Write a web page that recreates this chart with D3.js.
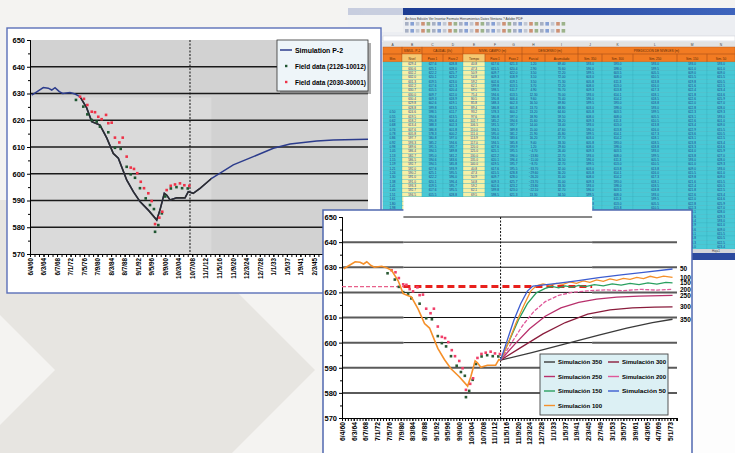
<!DOCTYPE html>
<html>
<head>
<meta charset="utf-8">
<script src="https://cdn.jsdelivr.net/npm/d3@7"></script>
<style>
body { margin: 0; background: #f4f3f1; }
svg { display: block; font-family: "Liberation Sans", Arial, sans-serif; }
</style>
</head>
<body>
<svg id="chart" width="735" height="453"></svg>
<script>
// ---- data (x = months from start of record, y = water level, m) ----
var simP2 = [[1.5,629.4],[6,630.6],[11.8,632.2],[16.2,632.0],[19.3,631.3],[22.2,632.2],[26,630.7],[29,630.0],
  [35.5,630.4],[40,629.8],[44.4,628.8],[50.3,624.6],[54.8,619.5],[62.1,618.2],[68.1,613.4],[73.9,607.6],
  [78.4,605.8],[85.8,597.7],[91.7,593.3],[97.6,589.6],[105,586.4],[112.5,582.7],[115.4,586.5],[119.2,592.7],
  [121.3,592],[124.3,590.2],[130.2,591],[137.6,591],[140.5,593.3],[144.9,592.7],[150.9,594.5],[161.3,598.3],
  [180.4,603.3],[198.2,606.4],[216,609.5],[230.8,611.1],[254.5,612.2],[269.2,612.6],[300,612.9]];

var fieldGreen = [[40.8,627.6],[47.3,625.1],[50.9,622.2],[54.8,620.1],[59.2,619.5],[62.1,617.6],[69.5,615.5],
  [75.4,609.7],[80.5,609.3],[85.8,602.6],[89.4,599.8],[93.2,598.5],[97.6,594.6],[102.7,590.8],[106.5,588.3],
  [110,586.8],[111,578.3],[113.9,580.8],[117,585.2],[120,591.5],[125,594.5],[130,595],[135,594.6],[140,594.5]];

var fieldRed = [[44.4,628.8],[47.9,628],[50.9,625.7],[54.8,623.2],[57.7,623],[60.6,621.3],[63.6,620.4],[67.5,622],
  [69.5,618.9],[72.5,619.1],[75.4,613.5],[79.3,611.7],[82.3,613.5],[85.8,606.4],[89.4,602.3],[92.3,601.8],
  [95.2,600.2],[98.3,597],[101.2,594.6],[105,592.7],[108,589.8],[111,581.2],[114.8,583.6],[117.4,585.8],
  [121.3,593.9],[124.9,595.5],[128.7,596],[133.1,596.4],[137,595.7],[141.4,595.5]];

var sc50 = [[142,593],[148,601],[154,609],[160,615.5],[166,620.5],[171,622.5],[189,623.4],[210,624.6],[230,625.9],[250,627],[270,628],[296,629.3]];
var sc100 = [[142,593],[149,600],[156,608],[163,615],[169,620.5],[174,622.6],[180,623.4],[186,622.8],[192,623.6],[198,623.2],[204,624.2],[210,623.6],[216,624.6],[222,624],[228,625],[234,624.4],[240,625.4],[246,624.8],[252,625.6],[258,625.2],[264,626],[270,625.5],[276,626.4],[282,625.8],[288,626.5],[296,626]];
var sc150 = [[142,593],[150,601],[158,609],[166,615.5],[174,619.8],[182,621.6],[188,622.4],[194,621.8],[200,622.6],[206,622],[212,622.8],[218,622.3],[226,623.1],[234,622.6],[242,623.4],[250,622.9],[258,623.6],[266,623.1],[274,623.8],[282,623.3],[290,624],[296,623.8]];
var sc200 = [[142,593],[152,600],[162,607],[172,612.5],[182,616.3],[194,618.8],[206,620],[220,620.6],[236,621],[252,620.7],[268,621.2],[282,620.9],[296,621.2]];
var sc250 = [[142,593],[155,599.5],[168,605.5],[182,610.5],[196,613.8],[212,616],[228,617.3],[246,618.1],[266,618.5],[296,618.8]];
var sc300 = [[142,593],[160,598],[180,603.5],[200,608],[220,611.3],[240,613],[260,613.8],[280,614.1],[296,614.2]];
var sc350 = [[142,593],[170,596],[200,599.5],[230,603],[255,605.8],[278,608],[296,609.3]];

var scenNames = ["350", "300", "250", "200", "150", "100", "50"];
var scenSeries = [sc350, sc300, sc250, sc200, sc150, sc100, sc50];
var scenColors = ["#3a3a3a", "#8a1c3c", "#b8306c", "#e0589a", "#2aa060", "#f5902a", "#3c5cd0"];
var legend2Order = ["350", "300", "250", "200", "150", "50", "100"];

var yTicks = [570, 580, 590, 600, 610, 620, 630, 640, 650];
var gridLevels = [580, 590, 600, 610, 620, 630, 640];
var nowT = 142;          // start of prediction (dashed vertical)
var refLevel = 622.3;    // red reference level

var xLabels1 = ["6/4/60","6/3/64","6/7/68","7/1/72","7/5/76","7/9/80","8/3/84","8/7/88","9/1/92","9/5/96",
  "9/9/00","10/3/04","10/7/08","11/1/12","11/5/16","11/9/20","12/3/24","12/7/28","1/1/33","1/5/37",
  "1/9/41","2/3/45","2/7/49","3/1/53","3/5/57"];
var xLabels2 = ["6/4/60","6/3/64","6/7/68","7/1/72","7/5/76","7/9/80","8/3/84","8/7/88","9/1/92","9/5/96",
  "9/9/00","10/3/04","10/7/08","11/1/12","11/5/16","11/9/20","12/3/24","12/7/28","1/1/33","1/5/37",
  "1/9/41","2/3/45","2/7/49","3/1/53","3/5/57","3/9/61","4/3/65","4/7/69","5/1/73"];

var legend1Labels = ["Simulation P-2", "Field data (2126-10012)", "Field data (2030-30001)"];

var sheetMenu = "Archivo   Edición   Ver   Insertar   Formato   Herramientas   Datos   Ventana   ?   Adobe PDF";
var sheetLetters = ["A","B","C","D","E","F","G","H","I","J","K","L","M","N"];
var sheetGroups = [[0,1,""],[1,2,"SIMUL. P-2"],[2,4,"CAUDAL (l/s)"],[4,7,"NIVEL CAMPO (m)"],[7,9,"DESCENSO (m)"],[9,14,"PREDICCIÓN DE NIVELES (m)"]];
var sheetSub = ["Mes","Nivel","Pozo 1","Pozo 2","Tiempo","Pozo 1","Pozo 2","Parcial","Acumulado","Sim. 350","Sim. 300","Sim. 250","Sim. 150","Sim. 50"];

// ---- setup ----
var svg = d3.select("#chart");
var bold = "bold";

// background with chevron
svg.append("rect").attr("width", 735).attr("height", 453).attr("fill", "#f4f3f1");
svg.append("path").attr("d", "M-115,200L145,200L315,370L145,540L-115,540L55,370Z").attr("fill", "#e7e5e1");
svg.append("rect").attr("x", 690).attr("y", 255).attr("width", 45).attr("height", 198).attr("fill", "#fdfdfd");

// ---- spreadsheet window (background) ----
var colX = [383,402,422,443,463,485,505,522,545,578,602,633,677,707,735];
var rowsTop = 62, rowH = 4.35, nRows = 43;
var sh = svg.append("g");
sh.append("rect").attr("x", 348).attr("y", 8).attr("width", 387).attr("height", 252).attr("fill", "#dde3ec");
var grad = svg.append("defs").append("linearGradient").attr("id", "tb");
grad.append("stop").attr("offset", "0").attr("stop-color", "#17358a");
grad.append("stop").attr("offset", "1").attr("stop-color", "#3e64bd");
sh.append("rect").attr("x", 348).attr("y", 8).attr("width", 387).attr("height", 7).attr("fill", "url(#tb)");
sh.append("rect").attr("x", 348).attr("y", 15).attr("width", 387).attr("height", 27).attr("fill", "#eceef2");
sh.append("text").attr("x", 405).attr("y", 19.5).attr("font-size", 3.3).attr("fill", "#333").text(sheetMenu);
// toolbar buttons
sh.selectAll("rect.btn").data(d3.range(60)).join("rect")
  .attr("x", function (d) { return 405 + d * 5.4; })
  .attr("y", function (d) { return d < 30 ? 22 : 29; })
  .attr("width", 3.6).attr("height", 3.6)
  .attr("fill", function (d) { return ["#8a96b0", "#5b7fc8", "#b0b8c8", "#c06a40", "#7a9a60"][d % 5]; })
  .attr("opacity", 0.7)
  .attr("transform", function (d) { return d >= 30 ? "translate(-162,0)" : null; });
sh.append("rect").attr("x", 383).attr("y", 36).attr("width", 352).attr("height", 5).attr("fill", "#fff").attr("stroke", "#c0c4cc").attr("stroke-width", 0.4);
// column letters
sh.append("rect").attr("x", 383).attr("y", 42).attr("width", 352).attr("height", 5).attr("fill", "#e2e2e2");
sheetLetters.forEach(function (l, i) {
  sh.append("text").attr("x", (colX[i] + colX[i + 1]) / 2).attr("y", 46).attr("font-size", 3.3)
    .attr("text-anchor", "middle").attr("fill", "#444").text(l);
});
// orange header
sh.append("rect").attr("x", 383).attr("y", 47).attr("width", 352).attr("height", 15).attr("fill", "#f27b22");
sheetGroups.forEach(function (g) {
  sh.append("rect").attr("x", colX[g[0]]).attr("y", 47).attr("width", colX[g[1]] - colX[g[0]]).attr("height", 7)
    .attr("fill", "none").attr("stroke", "#b5561a").attr("stroke-width", 0.4);
  sh.append("text").attr("x", (colX[g[0]] + colX[g[1]]) / 2).attr("y", 52).attr("font-size", 3.2)
    .attr("text-anchor", "middle").attr("fill", "#5a2a08").text(g[2]);
});
sheetSub.forEach(function (s, i) {
  sh.append("rect").attr("x", colX[i]).attr("y", 54).attr("width", colX[i + 1] - colX[i]).attr("height", 8)
    .attr("fill", i === 1 || i === 4 ? "#f6c870" : "none").attr("stroke", "#b5561a").attr("stroke-width", 0.4);
  sh.append("text").attr("x", (colX[i] + colX[i + 1]) / 2).attr("y", 59.5).attr("font-size", 3.1)
    .attr("text-anchor", "middle").attr("fill", "#5a2a08").text(s);
});
// data cells, values taken from the chart series
var f1 = d3.format(".1f"), f2 = d3.format(".2f");
function at(arr, r) { return arr[r % arr.length]; }
var sheetRows = d3.range(nRows).map(function (r) {
  var s = at(simP2, r), g = at(fieldGreen, r), rd = at(fieldRed, r);
  return [r >= 11 ? f2(s[0] / 100) : "", f1(s[1]), f1(g[1]), f1(rd[1]), f1(g[0]), f1(at(fieldGreen, r + 5)[1]),
    f1(at(fieldRed, r + 5)[1]), f2(rd[1] - g[1]), f2(s[1] - 560), f1(at(sc350, r)[1]), f1(at(sc300, r)[1]),
    f1(at(sc250, r)[1]), f1(at(sc150, r)[1]), f1(at(sc50, r)[1])];
});
sheetRows.forEach(function (row, r) {
  var y = rowsTop + r * rowH;
  row.forEach(function (v, c) {
    sh.append("rect").attr("x", colX[c]).attr("y", y).attr("width", colX[c + 1] - colX[c]).attr("height", rowH)
      .attr("fill", c === 1 || c === 4 ? "#f7f0a6" : "#48c9d6").attr("stroke", "#36aebd").attr("stroke-width", 0.3);
    sh.append("text").attr("x", (colX[c] + colX[c + 1]) / 2).attr("y", y + 3.3).attr("font-size", 3.1)
      .attr("text-anchor", "middle").attr("fill", "#1b3a8c").text(v);
  });
});
sh.append("rect").attr("x", 348).attr("y", rowsTop + nRows * rowH).attr("width", 387).attr("height", 4).attr("fill", "#d4d6da");
sh.append("rect").attr("x", 348).attr("y", 253).attr("width", 387).attr("height", 7).attr("fill", "#2b4a9e");
sh.append("text").attr("x", 712).attr("y", 251.5).attr("font-size", 3).attr("fill", "#444").text("Hoja1");
// faded corner over the sheet
svg.append("rect").attr("x", 340).attr("y", 0).attr("width", 63).attr("height", 32).attr("fill", "#f4f4f4").attr("opacity", 0.8);

// ---- helper for axes ----
function styleAxis(g, size) {
  g.selectAll("path, line").attr("stroke", "#000").attr("stroke-width", 1);
  g.selectAll("text").attr("font-size", size).attr("font-weight", bold).attr("fill", "#000")
    .attr("font-family", "Liberation Sans, Arial, sans-serif");
}
function rotateLabels(g) {
  g.selectAll("text").attr("y", 0).attr("x", -4).attr("dy", "0.35em")
    .attr("transform", "rotate(-90)").style("text-anchor", "end");
}

// ---- chart 1 (history fit) ----
var c1 = svg.append("g");
var x1 = d3.scaleLinear().domain([0, 300]).range([30, 368]);
var y1 = d3.scaleLinear().domain([570, 650]).range([254, 40]);
c1.append("rect").attr("x", 7).attr("y", 28).attr("width", 374).attr("height", 265)
  .attr("fill", "#fff").attr("stroke", "#5b6fb8").attr("stroke-width", 1.4);
c1.append("rect").attr("x", x1(0)).attr("y", y1(650)).attr("width", x1(300) - x1(0)).attr("height", y1(570) - y1(650)).attr("fill", "#d2d2d2");
c1.append("rect").attr("x", x1(0)).attr("y", y1(628.5)).attr("width", x1(161) - x1(0)).attr("height", y1(570) - y1(628.5)).attr("fill", "#dadada");
c1.selectAll("line.grid").data(gridLevels).join("line")
  .attr("x1", x1(0)).attr("x2", x1(300)).attr("y1", y1).attr("y2", y1)
  .attr("stroke", "#1a1a1a").attr("stroke-width", 1.3);

var ax1 = c1.append("g").attr("transform", "translate(" + x1(0) + ",0)")
  .call(d3.axisLeft(y1).tickValues(yTicks).tickSize(3).tickPadding(2).tickFormat(d3.format("d")));
styleAxis(ax1, 7.5);
var ax1m = c1.append("g").attr("transform", "translate(" + x1(0) + ",0)")
  .call(d3.axisLeft(y1).tickValues(d3.range(575, 650, 10)).tickSize(2).tickFormat(""));
styleAxis(ax1m, 7);
var bx1m = c1.append("g").attr("transform", "translate(0," + y1(570) + ")")
  .call(d3.axisBottom(x1).tickValues(d3.range(0, 301, 4)).tickSize(3).tickFormat(""));
styleAxis(bx1m, 7);
var bx1 = c1.append("g").attr("transform", "translate(0," + y1(570) + ")")
  .call(d3.axisBottom(x1).tickValues(xLabels1.map(function (d, i) { return i * 12; }))
    .tickSize(3).tickFormat(function (d, i) { return xLabels1[i]; }));
styleAxis(bx1, 6.3);
rotateLabels(bx1);

c1.append("line").attr("x1", x1(nowT)).attr("x2", x1(nowT)).attr("y1", y1(650)).attr("y2", y1(570))
  .attr("stroke", "#111").attr("stroke-width", 1).attr("stroke-dasharray", "2,1.5");

var line1 = d3.line().x(function (d) { return x1(d[0]); }).y(function (d) { return y1(d[1]); });
c1.append("path").datum(simP2).attr("d", line1).attr("fill", "none").attr("stroke", "#2c3c8c").attr("stroke-width", 1.5);
svg.append("clipPath").attr("id", "paste1").append("rect")
  .attr("x", x1(0)).attr("y", y1(628.5)).attr("width", x1(161) - x1(0)).attr("height", y1(570) - y1(628.5));
c1.append("path").datum(simP2).attr("d", line1).attr("fill", "none").attr("stroke", "#2e2e2e")
  .attr("stroke-width", 1.6).attr("clip-path", "url(#paste1)");

function dots(g, data, xs, ys, color) {
  g.selectAll(null).data(data).join("rect")
    .attr("x", function (d) { return xs(d[0]) - 1.3; }).attr("y", function (d) { return ys(d[1]) - 1.3; })
    .attr("width", 2.6).attr("height", 2.6).attr("fill", color);
}
dots(c1, fieldGreen, x1, y1, "#1e5530");
dots(c1, fieldRed, x1, y1, "#ee3348");

// legend 1
var lg1 = c1.append("g");
lg1.append("rect").attr("x", 280).attr("y", 43).attr("width", 91).attr("height", 51).attr("fill", "#777").attr("opacity", 0.6);
lg1.append("rect").attr("x", 277).attr("y", 40).attr("width", 91).attr("height", 51).attr("fill", "#eef5f9").attr("stroke", "#333").attr("stroke-width", 0.8);
legend1Labels.forEach(function (t, i) {
  var y = 50 + i * 16;
  if (i === 0) {
    lg1.append("line").attr("x1", 280).attr("x2", 292).attr("y1", y).attr("y2", y).attr("stroke", "#2c3c8c").attr("stroke-width", 1.5);
  } else {
    lg1.append("rect").attr("x", 285).attr("y", y - 1.2).attr("width", 2.4).attr("height", 2.4).attr("fill", i === 1 ? "#1e5530" : "#ee3348");
  }
  lg1.append("text").attr("x", 295).attr("y", y + 2.5).attr("font-size", 7).attr("font-weight", bold)
    .attr("textLength", i === 0 ? 48 : 71).attr("lengthAdjust", "spacingAndGlyphs").text(t);
});

// ---- chart 2 (predictions) ----
var c2 = svg.append("g");
var x2 = d3.scaleLinear().domain([0, 300]).range([342, 677]);
var y2 = d3.scaleLinear().domain([570, 650]).range([418, 217]);
c2.append("rect").attr("x", 323).attr("y", 210).attr("width", 369).attr("height", 260)
  .attr("fill", "#fff").attr("stroke", "#5068b0").attr("stroke-width", 1.5);
c2.selectAll("line.grid").data(gridLevels).join("line")
  .attr("x1", x2(0)).attr("x2", x2(300)).attr("y1", y2).attr("y2", y2)
  .attr("stroke", "#5a5a5a").attr("stroke-width", 2);
// pasted white block with thin grid
c2.append("rect").attr("x", x2(55)).attr("y", 197).attr("width", x2(224) - x2(55)).attr("height", y2(591) - 197).attr("fill", "#fff");
c2.selectAll("line.thin").data(gridLevels.filter(function (v) { return v > 591; }).concat([650])).join("line")
  .attr("x1", x2(55)).attr("x2", x2(224)).attr("y1", y2).attr("y2", y2)
  .attr("stroke", "#111").attr("stroke-width", 1);

var ax2 = c2.append("g").attr("transform", "translate(" + x2(0) + ",0)")
  .call(d3.axisLeft(y2).tickValues(yTicks).tickSize(3).tickPadding(2).tickFormat(d3.format("d")));
styleAxis(ax2, 7.5);
var ax2m = c2.append("g").attr("transform", "translate(" + x2(0) + ",0)")
  .call(d3.axisLeft(y2).tickValues(d3.range(575, 650, 10)).tickSize(2).tickFormat(""));
styleAxis(ax2m, 7);
var bx2m = c2.append("g").attr("transform", "translate(0," + y2(570) + ")")
  .call(d3.axisBottom(x2).tickValues(d3.range(0, 301, 2.625)).tickSize(3).tickFormat(""));
styleAxis(bx2m, 7);
var bx2 = c2.append("g").attr("transform", "translate(0," + y2(570) + ")")
  .call(d3.axisBottom(x2).tickValues(xLabels2.map(function (d, i) { return i * 10.5; }))
    .tickSize(3).tickFormat(function (d, i) { return xLabels2[i]; }));
styleAxis(bx2, 6.8);
rotateLabels(bx2);

// reference level
c2.append("line").attr("x1", x2(0)).attr("x2", x2(55)).attr("y1", y2(refLevel)).attr("y2", y2(refLevel))
  .attr("stroke", "#e8608a").attr("stroke-width", 1.2).attr("stroke-dasharray", "4,2");
c2.append("line").attr("x1", x2(55)).attr("x2", x2(224)).attr("y1", y2(refLevel)).attr("y2", y2(refLevel))
  .attr("stroke", "#e8201c").attr("stroke-width", 3).attr("stroke-dasharray", "7,4");

c2.append("line").attr("x1", x2(nowT)).attr("x2", x2(nowT)).attr("y1", y2(650)).attr("y2", y2(570))
  .attr("stroke", "#111").attr("stroke-width", 1).attr("stroke-dasharray", "2,1.5");

var line2 = d3.line().x(function (d) { return x2(d[0]); }).y(function (d) { return y2(d[1]); });
var histLine = simP2.filter(function (d) { return d[0] <= nowT; }).concat([sc100[0]]);
dots(c2, fieldGreen, x2, y2, "#2a5a34");
dots(c2, fieldRed, x2, y2, "#f0406a");
c2.append("path").datum(histLine).attr("d", line2).attr("fill", "none").attr("stroke", "#f5902a").attr("stroke-width", 1.6);
scenSeries.forEach(function (s, i) {
  c2.append("path").datum(s).attr("d", line2).attr("fill", "none").attr("stroke", scenColors[i])
    .attr("stroke-width", 1.3).attr("stroke-dasharray", scenNames[i] === "200" ? "4,1.5" : null);
  var last = s[s.length - 1];
  c2.append("text").attr("x", 680).attr("y", y2(last[1]) + 2.3).attr("font-size", 6.5).attr("font-weight", bold)
    .text(scenNames[i]);
});

// legend 2
var lg2 = c2.append("g");
lg2.append("rect").attr("x", 540).attr("y", 354).attr("width", 128).attr("height", 61)
  .attr("fill", "#dcf0f4").attr("stroke", "#444").attr("stroke-width", 0.9);
legend2Order.forEach(function (n, k) {
  var i = scenNames.indexOf(n);
  var lx = k % 2 === 0 ? 544 : 608, ly = 362 + Math.floor(k / 2) * 14.5;
  lg2.append("line").attr("x1", lx).attr("x2", lx + 11).attr("y1", ly).attr("y2", ly)
    .attr("stroke", scenColors[i]).attr("stroke-width", 1.4);
  lg2.append("text").attr("x", lx + 14).attr("y", ly + 2.2).attr("font-size", 6).attr("font-weight", bold)
    .attr("textLength", 44).attr("lengthAdjust", "spacingAndGlyphs").text("Simulación " + n);
});
</script>
</body>
</html>
